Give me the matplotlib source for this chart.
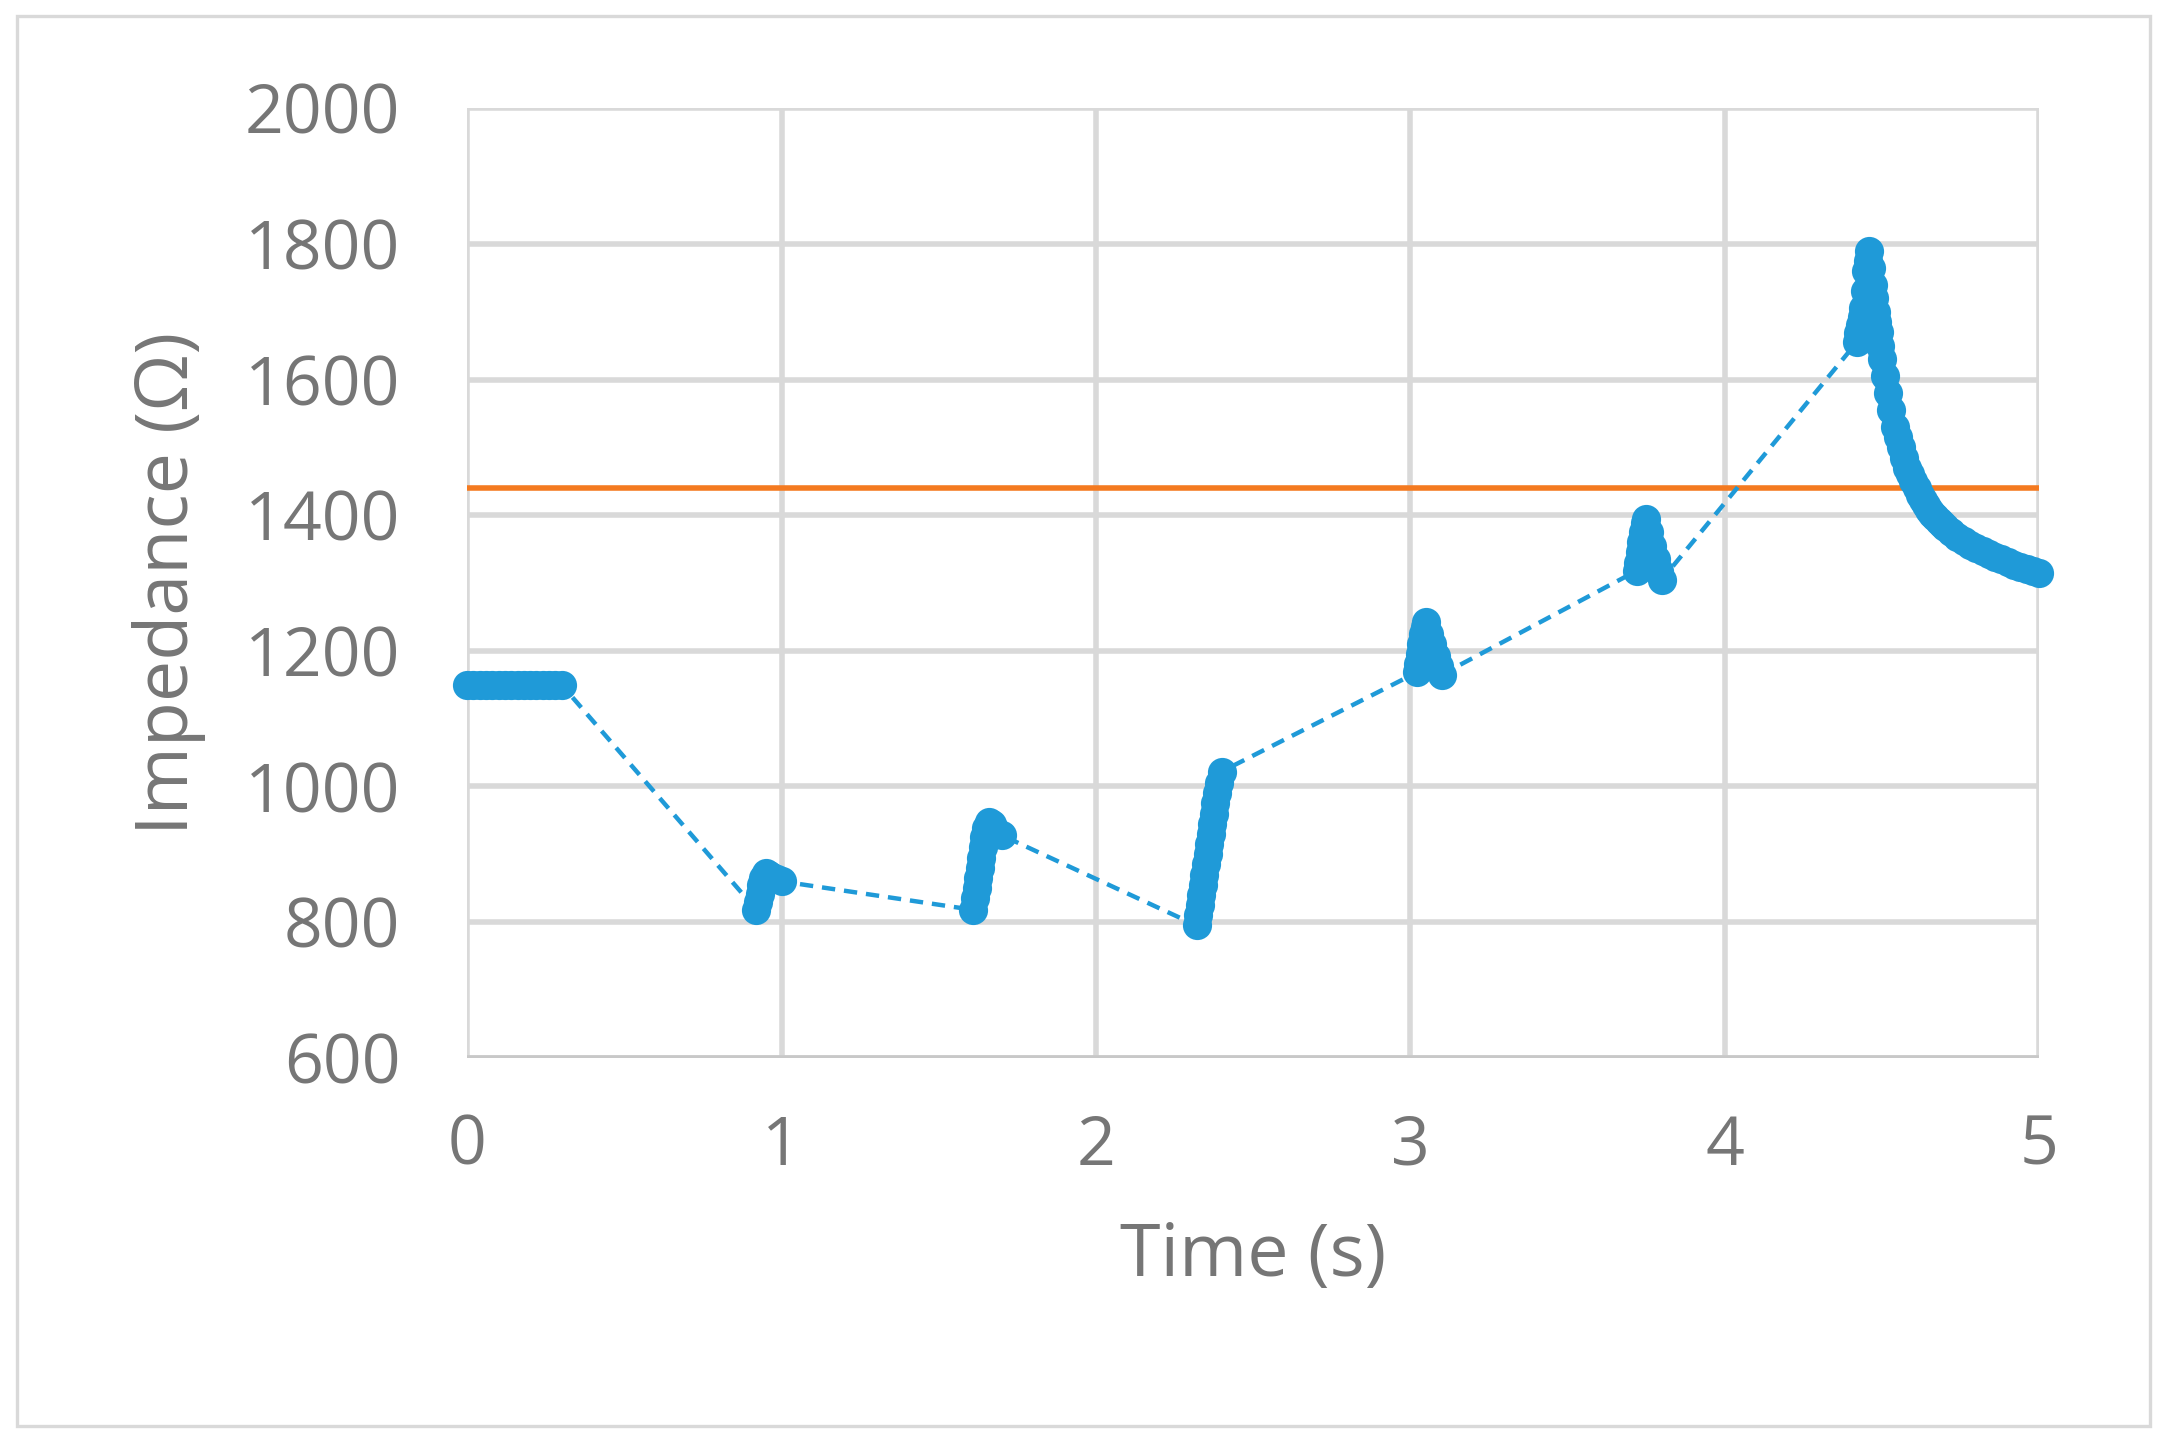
import matplotlib.pyplot as plt
from matplotlib.patches import Rectangle

# time (s) and impedance (ohm)
time_s = [0.00, 0.02, 0.04, 0.06, 0.08, 0.10, 0.12, 0.14, 0.16, 0.18, 0.20, 0.22, 0.24, 0.26, 0.28, 0.30,
          0.92, 0.925, 0.93, 0.935, 0.94, 0.95, 0.96, 0.97, 0.985, 1.00,
          1.61, 1.615, 1.62, 1.625, 1.63, 1.635, 1.64, 1.645, 1.65, 1.66, 1.67, 1.68, 1.70,
          2.32, 2.325, 2.33, 2.335, 2.34, 2.345, 2.35, 2.355, 2.36, 2.365, 2.37, 2.375, 2.38, 2.385, 2.39, 2.40,
          3.02, 3.025, 3.03, 3.035, 3.04, 3.045, 3.05, 3.06, 3.07, 3.08, 3.09, 3.10,
          3.72, 3.725, 3.73, 3.735, 3.74, 3.745, 3.75, 3.76, 3.77, 3.78, 3.79, 3.80,
          4.42, 4.425, 4.43, 4.435, 4.44, 4.445, 4.45, 4.455, 4.46, 4.465, 4.47, 4.475, 4.48, 4.485, 4.49,
          4.495, 4.50, 4.51, 4.52, 4.53, 4.54, 4.55, 4.56, 4.57, 4.58, 4.59, 4.60,
          4.61, 4.62, 4.63, 4.64, 4.65, 4.66, 4.67, 4.68, 4.69, 4.70, 4.72, 4.74, 4.76, 4.78, 4.80,
          4.82, 4.84, 4.86, 4.88, 4.90, 4.92, 4.94, 4.96, 4.98, 5.00]
impedance = [1150, 1150, 1150, 1150, 1150, 1150, 1150, 1150, 1150, 1150, 1150, 1150, 1150, 1150, 1150, 1150,
             818, 830, 842, 855, 865, 872, 870, 867, 863, 860,
             818, 835, 850, 865, 880, 895, 910, 925, 938, 948, 944, 936, 928,
             795, 810, 825, 840, 855, 870, 885, 900, 915, 930, 945, 960, 975, 990, 1005, 1022,
             1168, 1180, 1195, 1210, 1225, 1235, 1242, 1225, 1210, 1192, 1178, 1165,
             1318, 1330, 1345, 1360, 1375, 1388, 1395, 1375, 1355, 1335, 1318, 1305,
             1655, 1668, 1680, 1692, 1705, 1730, 1760, 1775, 1790, 1765, 1740, 1720, 1700, 1685, 1670,
             1650, 1630, 1605, 1580, 1555, 1530, 1515, 1500, 1485, 1470, 1460, 1450,
             1440, 1430, 1422, 1415, 1408, 1402, 1397, 1392, 1387, 1383, 1375, 1368, 1362, 1356, 1352,
             1347, 1343, 1339, 1335, 1331, 1327, 1324, 1320, 1317, 1315]
threshold = 1440

grey = '#767676'
fig = plt.figure(figsize=(10.835, 7.215), dpi=200)
plt.rcParams['font.family'] = ['Open Sans', 'DejaVu Sans']
ax = fig.add_axes([0.2156, 0.267, 0.7254, 0.658])

ax.plot(time_s, impedance, '--o', color='#1f9ad8', lw=1.6, ms=9.5, dashes=(3, 2), zorder=3, clip_on=False)
ax.axhline(threshold, color='#f47a20', lw=2.0, zorder=2)

ax.set_xlim(0, 5)
ax.set_ylim(600, 2000)
ax.set_xticks(range(0, 6))
ax.set_yticks(range(600, 2001, 200))
ax.grid(True, color='#d9d9d9', lw=2.0)
ax.set_axisbelow(True)
for s in ax.spines.values():
    s.set_visible(False)
ax.axhline(600, color='#c8c8c8', lw=2.0, zorder=1)
ax.tick_params(length=0, labelsize=24.5, colors=grey, pad=20)
ax.tick_params(axis='y', pad=24)
ax.set_xlabel('Time (s)', fontsize=26.5, color=grey, labelpad=14)
ax.set_ylabel('Impedance (Ω)', fontsize=26.5, color=grey, labelpad=14)

fig.patches.append(Rectangle((0.008, 0.012), 0.984, 0.977, transform=fig.transFigure,
                             fill=False, edgecolor='#d9d9d9', lw=1.2))
fig.savefig('out.png', dpi=200)
